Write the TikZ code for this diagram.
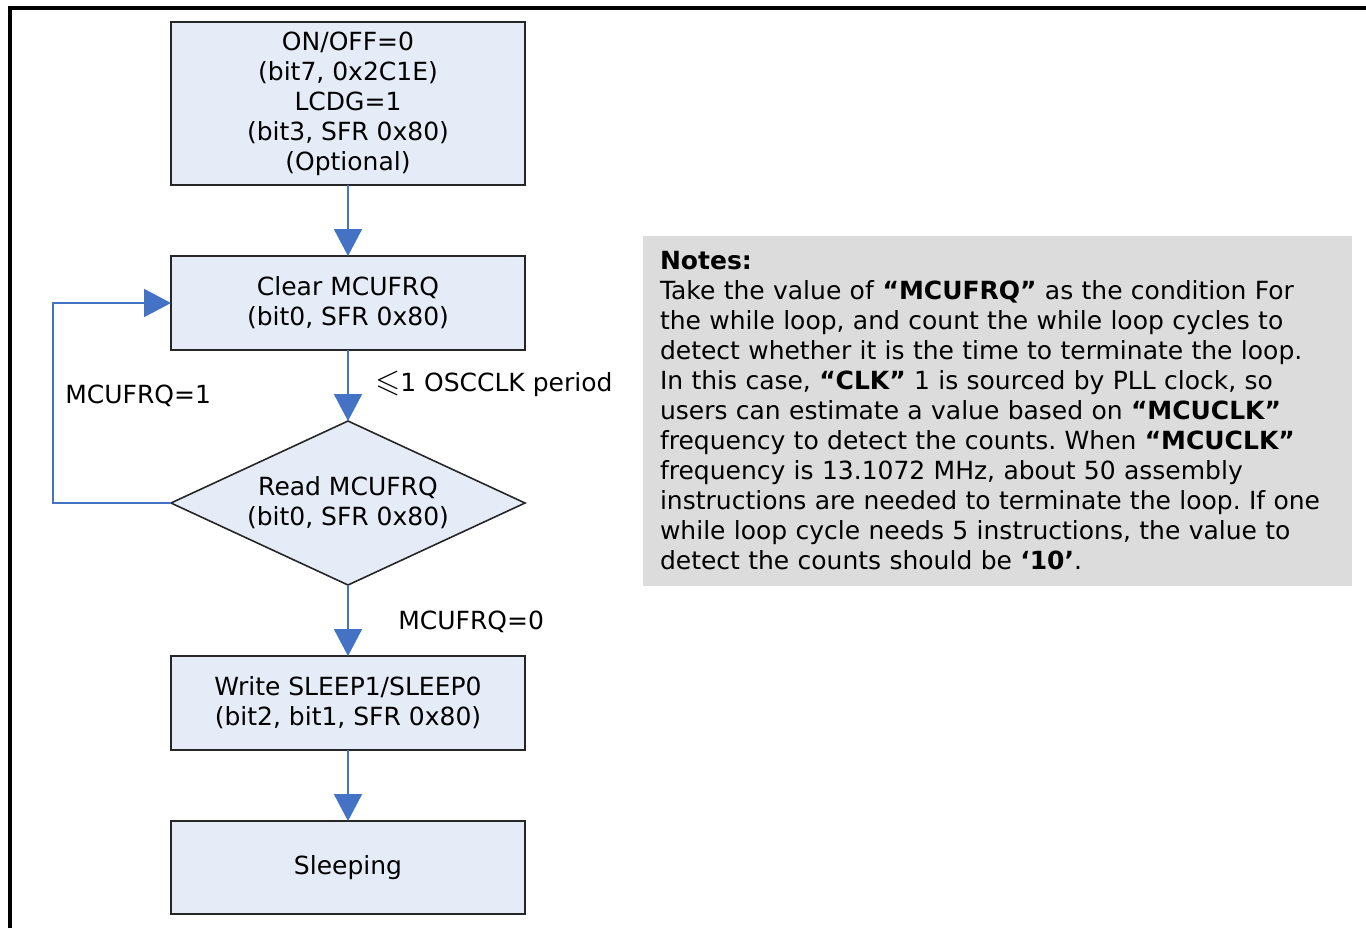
\documentclass[tikz,border=0pt]{standalone}
\usepackage{amsmath,amssymb}
\usepackage{fontspec}
\setmainfont{DejaVu Sans}
\usetikzlibrary{positioning,shapes.geometric,arrows.meta}
\definecolor{boxblue}{HTML}{E6ECF7}
\definecolor{flowblue}{HTML}{4472C4}
\definecolor{notegray}{HTML}{DCDCDC}
\frenchspacing
\begin{document}
\begin{tikzpicture}
    [x=0.5pt,y=-0.5pt,node distance=35.5pt,font=\fontsize{12.5pt}{15pt}\selectfont,
     blk/.style={rectangle,draw=black!85,line width=0.8pt,fill=boxblue,minimum width=177pt,inner sep=0pt,outer sep=0pt,align=center},
     dec/.style={diamond,draw=black!85,line width=0.8pt,fill=boxblue,aspect=2.16,minimum width=177pt,minimum height=82pt,inner sep=0pt,outer sep=0pt,align=center},
     flow/.style={draw=flowblue,line width=1pt,-{Triangle[length=13.5pt,width=14pt]}},
     lbl/.style={anchor=west,inner sep=0pt}]
    \useasboundingbox (0,0) rectangle (1366,928);
    \draw[line width=2pt] (10,928) -- (10,8) -- (1366,8);
    \node[blk,minimum height=81.5pt] (onoff) at (348,103.5) {ON/OFF=0\\(bit7, 0x2C1E)\\LCDG=1\\(bit3, SFR 0x80)\\(Optional)};
    \node[blk,minimum height=47pt] (clear) [below =of onoff] {Clear MCUFRQ\\(bit0, SFR 0x80)};
    \node[dec] (read) [below =of clear] {Read MCUFRQ\\(bit0, SFR 0x80)};
    \node[blk,minimum height=47pt] (write) [below =of read] {Write SLEEP1/SLEEP0\\(bit2, bit1, SFR 0x80)};
    \node[blk,minimum height=46.5pt] (sleep) [below =of write] {Sleeping};
    \node[rectangle,fill=notegray,text width=337.5pt,inner xsep=8.5pt,inner ysep=0pt,minimum height=175pt,align=left] (notes) at (997.5,411)
      {\textbf{Notes:}\\
       Take the value of \textbf{“MCUFRQ”} as the condition For\\
       the while loop, and count the while loop cycles to\\
       detect whether it is the time to terminate the loop.\\
       In this case, \textbf{“CLK”} 1 is sourced by PLL clock, so\\
       users can estimate a value based on \textbf{“MCUCLK”}\\
       frequency to detect the counts. When \textbf{“MCUCLK”}\\
       frequency is 13.1072 MHz, about 50 assembly\\
       instructions are needed to terminate the loop. If one\\
       while loop cycle needs 5 instructions, the value to\\
       detect the counts should be \textbf{‘10’}.};
    \node[lbl] (period) at (375,384) {{\fontsize{16pt}{15pt}\selectfont$\leqslant$}1 OSCCLK period};
    \node[lbl] (one) at (65,396) {MCUFRQ=1};
    \node[lbl] (zero) at (398,622) {MCUFRQ=0};
    \draw[flow] (onoff) -- (clear);
    \draw[flow] (clear) -- (read);
    \draw[flow] (read) -- (write);
    \draw[flow] (write) -- (sleep);
    \draw[flow] (read.west) -- ++(-118,0) |- (clear.west);
\end{tikzpicture}
\end{document}
